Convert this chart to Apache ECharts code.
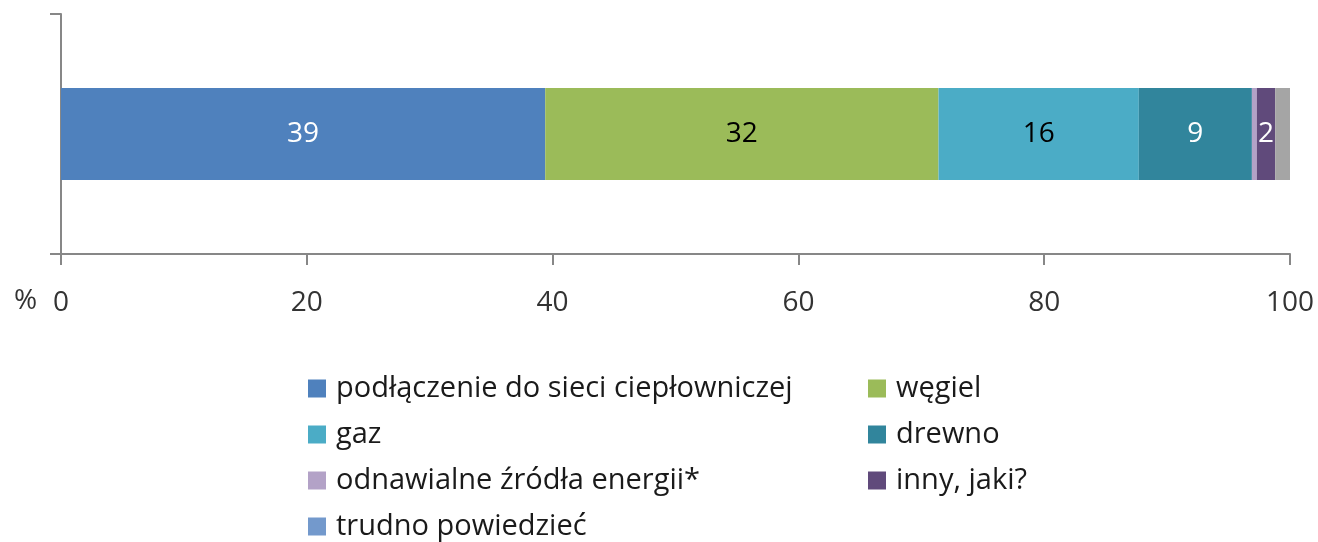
<!DOCTYPE html>
<html>
<head>
<meta charset="utf-8">
<style>
  html, body { margin: 0; padding: 0; background: #fff; }
  #chart { width: 1318px; height: 542px; }
</style>
<script src="https://cdn.jsdelivr.net/npm/echarts@6/dist/echarts.min.js"></script>
</head>
<body>
<div id="chart"></div>
<script>
// data
const categories = [''];
const seriesNames = ['podłączenie do sieci ciepłowniczej', 'węgiel', 'gaz', 'drewno',
    'odnawialne źródła energii*', 'inny, jaki?', 'trudno powiedzieć'];
const seriesValues = [39.4, 32.0, 16.3, 9.2, 0.4, 1.5, 1.2];
const barColors = ['#4f81bd', '#9bbb59', '#4bacc6', '#31859c', '#b3a2c7', '#604a7b', '#a5a5a5'];
const legendColors = ['#4f81bd', '#9bbb59', '#4bacc6', '#31859c', '#b3a2c7', '#604a7b', '#7399cc'];
const labelColors = ['#fff', '#000', '#000', '#fff', '#fff', '#fff', '#fff'];
const showLabel = [true, true, true, true, false, true, false];
const xTicks = [0, 20, 40, 60, 80, 100];

const font = '"Open Sans", "Noto Sans", sans-serif';
const axisColor = '#878787';

let myChart = echarts.init(document.getElementById('chart'));

let series = seriesNames.map(function (name, i) {
    return {
        name: name,
        type: 'bar',
        stack: 'total',
        barWidth: 92,
        data: [seriesValues[i]],
        itemStyle: { color: barColors[i] },
        label: {
            show: showLabel[i],
            position: 'inside',
            color: labelColors[i],
            fontSize: 28,
            fontFamily: font,
            formatter: function (p) { return Math.round(p.value); }
        }
    };
});

function legendItems(idx) {
    return idx.map(function (i) {
        return { name: seriesNames[i], itemStyle: { color: legendColors[i] } };
    });
}

const legendBase = {
    orient: 'vertical',
    top: 374,
    padding: 0,
    itemWidth: 18,
    itemHeight: 18,
    itemGap: 17,
    icon: 'rect',
    selectedMode: false,
    textStyle: { fontSize: 29, fontFamily: font, color: '#1a1a1a', padding: [0, 0, 0, 5] }
};

let option = {
    animation: false,
    grid: { left: 61, right: 28, top: 14, bottom: 288 },
    xAxis: {
        type: 'value',
        min: xTicks[0],
        max: xTicks[xTicks.length - 1],
        interval: 20,
        splitLine: { show: false },
        axisLine: { show: true, lineStyle: { color: axisColor, width: 2 } },
        axisTick: { show: true, length: 11, lineStyle: { color: axisColor, width: 2 } },
        axisLabel: { fontSize: 28, fontFamily: font, color: '#333', margin: 35 }
    },
    yAxis: {
        type: 'category',
        data: categories,
        axisLine: { show: true, lineStyle: { color: axisColor, width: 2 } },
        axisTick: { show: true, length: 11, lineStyle: { color: axisColor, width: 2 } },
        axisLabel: { show: false }
    },
    legend: [
        Object.assign({}, legendBase, { left: 308, data: legendItems([0, 2, 4, 6]) }),
        Object.assign({}, legendBase, { left: 868, data: legendItems([1, 3, 5]) })
    ],
    graphic: [{
        type: 'text',
        left: 14,
        top: 287,
        style: { text: '%', fontSize: 28, fontFamily: font, fill: '#333' }
    }],
    series: series
};
myChart.setOption(option);
</script>
</body>
</html>
